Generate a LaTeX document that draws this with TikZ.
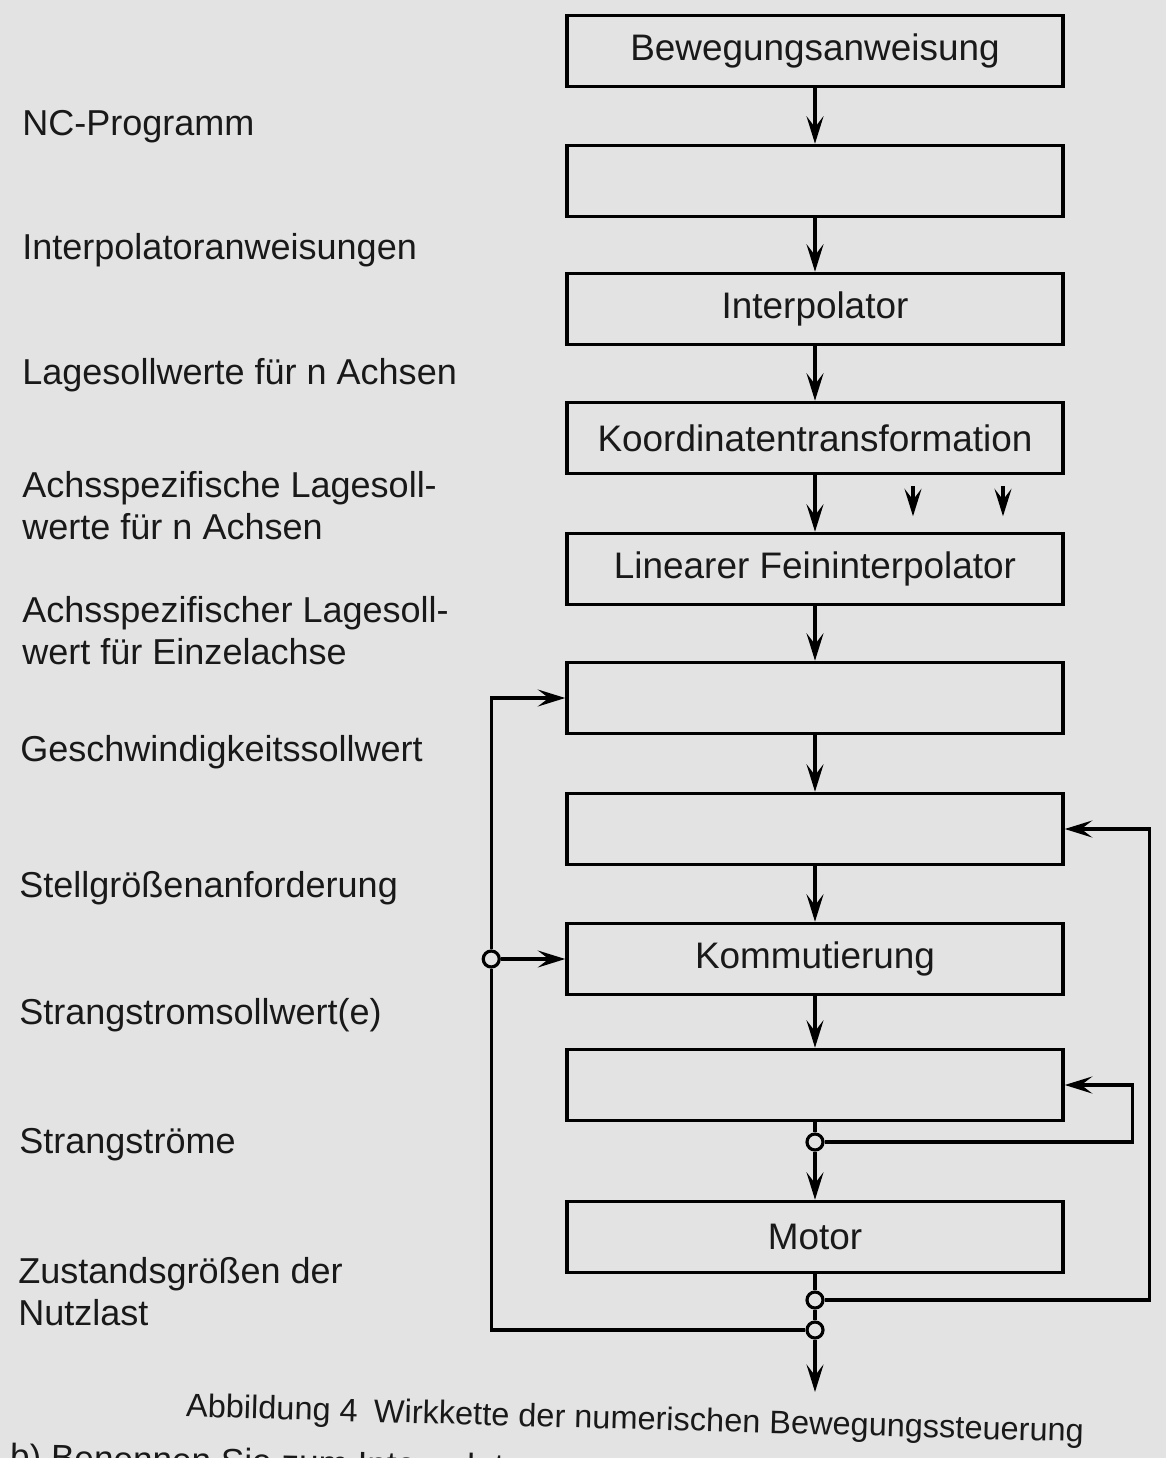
\documentclass[tikz,border=0pt]{standalone}
\usepackage{fontspec}
\setmainfont{Liberation Sans}
\usetikzlibrary{positioning,arrows.meta}
\definecolor{paper}{RGB}{227,227,227}
\definecolor{ink}{RGB}{25,25,25}
\begin{document}
\begin{tikzpicture}
\fill [paper] (0,0) rectangle (23.32,-29.16);
\useasboundingbox (0,0) rectangle (23.32,-29.16);
\tikzstyle{block} = [rectangle, draw=black, line width=2pt, minimum width=9.92cm, minimum height=1.42cm, text centered, text=ink, font=\fontsize{21}{24}\selectfont]
\tikzstyle{sidetext} = [anchor=west, align=left, inner sep=0pt, text=ink, font=\fontsize{20.5}{24}\selectfont]
\tikzstyle{dot} = [circle, draw=black, line width=1.8pt, fill=paper, inner sep=0pt, minimum size=0.32cm]
\tikzstyle{wire} = [line width=1.8pt]
\tikzstyle{arrow} = [wire, -{Stealth[length=0.55cm,width=0.34cm,inset=0.22cm]}]
% Wirkkette
\node (bew) [block] at (16.3,-1.02) {Bewegungsanweisung};
\node (nc) [block, below of=bew, node distance=2.6cm] {};
\node (ipo) [block, below of=nc, node distance=2.56cm] {Interpolator};
\node (kot) [block, below of=ipo, node distance=2.58cm] {Koordinatentransformation};
\node (fein) [block, below of=kot, node distance=2.62cm] {Linearer Feininterpolator};
\node (lage) [block, below of=fein, node distance=2.58cm] {};
\node (gesch) [block, below of=lage, node distance=2.62cm] {};
\node (komm) [block, below of=gesch, node distance=2.6cm] {Kommutierung};
\node (strom) [block, below of=komm, node distance=2.52cm] {};
\node (motor) [block, below of=strom, node distance=3.04cm] {Motor};
\node (c1) [dot, below of=strom, node distance=1.14cm] {};
\node (c2) [dot, below of=motor, node distance=1.26cm] {};
\node (c3) [dot, below of=c2, node distance=0.6cm] {};
\node (c4) [dot] at ([xshift=-1.48cm]komm.west) {};
\coordinate (out) at ([yshift=-1.24cm]c3.center);
\coordinate (ax1) at ([xshift=1.96cm,yshift=-0.22cm]kot.south);
\coordinate (ax2) at ([xshift=3.76cm,yshift=-0.22cm]kot.south);
% Signale
\node (s1) [sidetext] at (0.44,-2.54) {NC-Programm};
\node (s2) [sidetext] at (0.44,-5.0) {Interpolatoranweisungen};
\node (s3) [sidetext] at (0.44,-7.5) {Lagesollwerte für n Achsen};
\node (s4) [sidetext] at (0.44,-10.12) {Achsspezifische Lagesoll-\\werte für n Achsen};
\node (s5) [sidetext] at (0.44,-12.62) {Achsspezifischer Lagesoll-\\wert für Einzelachse};
\node (s6) [sidetext] at (0.4,-15.04) {Geschwindigkeitssollwert};
\node (s7) [sidetext] at (0.38,-17.76) {Stellgrößenanforderung};
\node (s8) [sidetext] at (0.38,-20.3) {Strangstromsollwert(e)};
\node (s9) [sidetext] at (0.38,-22.9) {Strangströme};
\node (s10) [sidetext] at (0.36,-25.84) {Zustandsgrößen der\\Nutzlast};
\node (cap) [text=ink, rotate=-1.6, font=\fontsize{18.5}{22}\selectfont] at (12.7,-28.42) {Abbildung 4\enspace Wirkkette der numerischen Bewegungssteuerung};
\node (task) [anchor=north west, inner sep=0pt, text=ink, rotate=-1.2, font=\fontsize{20}{24}\selectfont] at (0.2,-28.86) {b) Benennen Sie zum Interpolator};
% Pfeile
\draw [arrow] (bew) -- (nc);
\draw [arrow] (nc) -- (ipo);
\draw [arrow] (ipo) -- (kot);
\draw [arrow] (kot) -- (fein);
\draw [arrow] (ax1) -- ++(0,-0.6);
\draw [arrow] (ax2) -- ++(0,-0.6);
\draw [arrow] (fein) -- (lage);
\draw [arrow] (lage) -- (gesch);
\draw [arrow] (gesch) -- (komm);
\draw [arrow] (komm) -- (strom);
\draw [wire] (strom) -- (c1);
\draw [arrow] (c1) -- (motor);
\draw [wire] (motor) -- (c2);
\draw [wire] (c2) -- (c3);
\draw [arrow] (c3) -- (out);
% Rueckfuehrungen
\draw [wire] (c3) -| (c4);
\draw [arrow] (c4) |- (lage.west);
\draw [arrow] (c4) -- (komm.west);
\draw [arrow] (c2) -| ([xshift=1.7cm]gesch.east) -- (gesch.east);
\draw [arrow] (c1) -| ([xshift=1.36cm]strom.east) -- (strom.east);
\end{tikzpicture}
\end{document}
